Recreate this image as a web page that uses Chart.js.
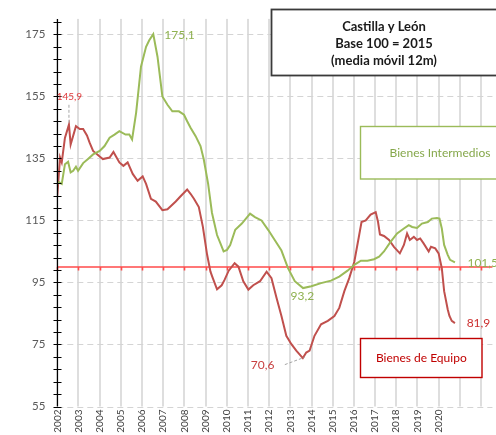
<!DOCTYPE html>
<html><head><meta charset="utf-8">
<script src="https://cdn.jsdelivr.net/npm/chart.js@4"></script>
<style>html,body{margin:0;padding:0;background:#fff;overflow:hidden}#wrap{width:496px;height:435px;position:relative}</style>
</head><body><div id="wrap"><canvas id="c" width="496" height="435"></canvas></div>
<script>
// ---- data ----
const equipoYears = [2002.0,2002.13,2002.21,2002.36,2002.55,2002.63,2002.88,2003.06,2003.22,2003.40,2003.53,2003.69,2004.0,2004.15,2004.47,2004.65,2004.93,2005.12,2005.32,2005.56,2005.79,2006.03,2006.19,2006.42,2006.65,2006.96,2007.20,2007.59,2007.82,2008.13,2008.29,2008.45,2008.68,2008.87,2009.07,2009.23,2009.34,2009.54,2009.76,2009.90,2010.09,2010.37,2010.55,2010.78,2011.02,2011.25,2011.57,2011.88,2012.11,2012.35,2012.58,2012.81,2013.05,2013.28,2013.59,2013.75,2013.91,2014.14,2014.45,2014.77,2015.08,2015.31,2015.55,2015.78,2016.02,2016.25,2016.36,2016.56,2016.79,2017.03,2017.14,2017.23,2017.42,2017.66,2017.89,2018.17,2018.36,2018.51,2018.64,2018.83,2018.98,2019.13,2019.29,2019.53,2019.64,2019.84,2020.0,2020.15,2020.26,2020.43,2020.51,2020.62,2020.77];
const equipoValues = [123,135.3,133.7,141.6,145.9,139.5,145.4,144.5,144.5,142.4,140,137.4,135.6,134.8,135.3,137.1,133.7,132.6,133.7,130,127.8,129.2,126.8,122,121.1,118.3,118.6,121.1,122.8,125,123.6,122,119.3,113,104,98.5,96.4,92.8,94.1,95.9,98.8,101.2,100.1,95.4,92.7,94.1,95.4,98.5,96.4,90,84.2,77.8,75.1,73,70.6,72.4,73,77.8,81.5,82.6,84.2,86.8,92.2,96.4,101.7,110.3,114.5,115,116.9,117.7,114.5,110.5,110,108.7,106.5,104.4,107.1,110.8,108.7,109.7,108.7,109.2,107.6,105,106.5,106,104.4,99.6,92.2,86.3,84.2,82.6,81.9];
const intermYears = [2002.0,2002.09,2002.21,2002.36,2002.51,2002.63,2002.75,2002.88,2002.98,2003.22,2003.45,2003.69,2004.0,2004.23,2004.47,2004.70,2004.93,2005.22,2005.40,2005.53,2005.72,2005.95,2006.19,2006.34,2006.53,2006.73,2006.96,2007.20,2007.43,2007.74,2007.98,2008.13,2008.29,2008.53,2008.76,2008.91,2009.12,2009.30,2009.54,2009.70,2009.85,2010.01,2010.16,2010.40,2010.71,2011.10,2011.33,2011.64,2011.96,2012.27,2012.58,2012.89,2013.21,2013.60,2013.99,2014.45,2014.92,2015.31,2015.70,2016.02,2016.33,2016.64,2016.95,2017.19,2017.42,2017.73,2018.04,2018.36,2018.59,2018.75,2018.98,2019.21,2019.49,2019.68,2019.92,2020.04,2020.15,2020.26,2020.43,2020.54,2020.77];
const intermValues = [126.8,127.3,126.8,133.1,133.9,130.5,131,132.3,131,133.5,134.8,136.3,137.4,139,141.7,142.7,143.8,142.7,142.7,141.1,149.7,164.6,171,173.1,175.1,167.8,155,152.3,150.2,150.2,149.1,147,144.9,142.2,139,134.8,126.8,117.5,110.3,107.6,105,105.5,107.1,112,114,117.2,116.1,115,111.9,108.6,105.3,99.6,95.4,93.2,93.8,94.8,95.6,96.9,98.8,100.7,102,102,102.5,103.3,105,108.1,110.8,112.4,113.5,112.9,112.6,114,114.5,115.6,115.8,115.6,112.4,107.1,103.9,102.3,101.5];
const gridYears = [2002,2003,2004,2005,2006,2007,2008,2009,2010,2011,2012,2013,2014,2015,2016,2017,2018,2019,2020,2021,2022];
const lastLabelYear = 2020;
const yTickValues = [55,59,63,67,71,75,79,83,87,91,95,99,103,107,111,115,119,123,127,131,135,139,143,147,151,155,159,163,167,171,175,179];
const yLabelValues = [55,75,95,115,135,155,175];
const baseLine = 100;
const titleLines = ['Castilla y León','Base 100 = 2015','(media móvil 12m)'];
const seriesNames = ['Bienes de Equipo','Bienes Intermedios'];
// value labels: text, x (year), y (value)
const labelTexts = ['145,9','175,1','93,2','70,6','81,9','101,5'];
const labelX = [2002.57,2007.77,2013.57,2011.69,2021.88,2021.36];
const labelY = [154.8,174.7,90.6,68.4,82.0,101.1];

// ---- styles ----
const RED = '#c0504d', GREEN = '#9bbb59';
const labelColors = ['#e0393b','#8fb150','#8fb150','#c84040','#cc2f2f','#8fb150'];
const labelFonts = ['10px Lato','12px Lato','12px Lato','12px Lato','12px Lato','12px Lato'];
const labelAlign = ['center','center','center','center','center','left'];

const overlay = {
  id: 'overlay',
  beforeDatasetsDraw(chart) {
    const {ctx, chartArea: a, scales: {x, y}} = chart;
    ctx.save();
    // vertical year grid lines (solid)
    ctx.fillStyle = '#dedede';
    x.ticks.forEach(t => { const px = Math.round(x.getPixelForValue(t.value)); ctx.fillRect(px - 1, a.top, 2, a.bottom - a.top); });
    // horizontal dashed grid lines
    ctx.strokeStyle = '#d4d4d4'; ctx.lineWidth = 1.2; ctx.setLineDash([6, 4]);
    ctx.beginPath();
    yLabelValues.forEach(v => { const py = Math.round(y.getPixelForValue(v)) + 0.5; ctx.moveTo(a.left, py); ctx.lineTo(a.right, py); });
    ctx.stroke();
    ctx.setLineDash([]);
    // base line at 100 with year ticks
    const yb = y.getPixelForValue(baseLine);
    ctx.strokeStyle = '#ff4b4b'; ctx.lineWidth = 1.6;
    ctx.beginPath(); ctx.moveTo(a.left, yb); ctx.lineTo(a.right, yb);
    x.ticks.forEach(t => { const px = Math.round(x.getPixelForValue(t.value)) + 0.5; ctx.moveTo(px, yb); ctx.lineTo(px, yb + 3.5); });
    ctx.stroke();
    ctx.restore();
  },
  afterDatasetsDraw(chart) {
    const {ctx, chartArea: a, scales: {x, y}} = chart;
    ctx.save();
    // y axis line and ticks
    const ax = Math.round(a.left) + 0.5;
    ctx.strokeStyle = '#000'; ctx.lineWidth = 1.2;
    ctx.beginPath(); ctx.moveTo(ax, a.top); ctx.lineTo(ax, a.bottom);
    y.ticks.forEach(t => { const py = Math.round(y.getPixelForValue(t.value)) + 0.5; ctx.moveTo(ax - 4, py); ctx.lineTo(ax + 4, py); });
    ctx.stroke();
    // leader lines
    ctx.strokeStyle = '#a6a6a6'; ctx.lineWidth = 1; ctx.setLineDash([3,2]);
    ctx.beginPath();
    ctx.moveTo(x.getPixelForValue(2002.55), y.getPixelForValue(152.3));
    ctx.lineTo(x.getPixelForValue(2002.55), y.getPixelForValue(146.3));
    ctx.moveTo(x.getPixelForValue(2012.74), y.getPixelForValue(68.5));
    ctx.lineTo(x.getPixelForValue(2013.68), y.getPixelForValue(70.9));
    ctx.stroke();
    ctx.setLineDash([]);
    // value labels
    ctx.textBaseline = 'middle';
    labelTexts.forEach((t, i) => {
      ctx.font = labelFonts[i]; ctx.fillStyle = labelColors[i]; ctx.textAlign = labelAlign[i];
      ctx.fillText(t, x.getPixelForValue(labelX[i]), y.getPixelForValue(labelY[i]));
    });
    // title box
    ctx.fillStyle = '#fff'; ctx.fillRect(271.5, 9.5, 240, 66);
    ctx.strokeStyle = '#3a3a3a'; ctx.lineWidth = 1.8; ctx.strokeRect(271.5, 9.5, 240, 66);
    ctx.fillStyle = '#1a1a1a'; ctx.font = 'bold 13px Lato'; ctx.textAlign = 'center';
    ctx.fillText(titleLines[0], 384, 27);
    ctx.fillText(titleLines[1], 384, 43.5);
    ctx.fillText(titleLines[2], 384, 61);
    // green box
    ctx.fillStyle = '#fff'; ctx.fillRect(360.5, 126.5, 200, 52.5);
    ctx.strokeStyle = GREEN; ctx.lineWidth = 1.4; ctx.strokeRect(360.5, 126.5, 200, 52.5);
    ctx.fillStyle = '#86a84c'; ctx.font = '12px Lato';
    ctx.fillText(seriesNames[1], 440, 153);
    // red box
    ctx.fillStyle = '#fff'; ctx.fillRect(360.5, 338.5, 121.5, 39);
    ctx.strokeStyle = '#c00000'; ctx.lineWidth = 1.4; ctx.strokeRect(360.5, 338.5, 121.5, 39);
    ctx.fillStyle = '#c00000'; ctx.font = '12px Lato';
    ctx.fillText(seriesNames[0], 421.3, 358.5);
    ctx.restore();
  }
};

new Chart(document.getElementById('c'), {
  type: 'line',
  data: {
    datasets: [
      { label: seriesNames[1], data: intermYears.map((v, i) => ({x: v, y: intermValues[i]})), borderColor: GREEN, borderWidth: 2, pointRadius: 0, tension: 0, fill: false },
      { label: seriesNames[0], data: equipoYears.map((v, i) => ({x: v, y: equipoValues[i]})), borderColor: RED, borderWidth: 2, pointRadius: 0, tension: 0, fill: false }
    ]
  },
  options: {
    responsive: false, animation: false, devicePixelRatio: 1,
    layout: { padding: { left: 0, top: 15, right: 0, bottom: 0 } },
    plugins: { legend: { display: false }, tooltip: { enabled: false } },
    scales: {
      x: {
        type: 'linear', min: 2002, max: 2022.54,
        afterBuildTicks: s => { s.ticks = gridYears.map(v => ({value: v})); },
        afterFit: s => { s.height = 28.5; },
        ticks: { autoSkip: false, maxRotation: 90, minRotation: 90, padding: 3, color: '#404040', font: { family: 'Lato', size: 10 },
          callback: v => v <= lastLabelYear ? String(v) : '' },
        grid: { display: false, drawTicks: false },
        border: { display: false }
      },
      y: {
        min: 55, max: 180,
        afterBuildTicks: s => { s.ticks = yTickValues.map(v => ({value: v})); },
        afterFit: s => { s.width = 57.3; },
        ticks: { autoSkip: false, padding: 12, color: '#595959', font: { family: 'Lato', size: 11.5 },
          callback: v => yLabelValues.includes(v) ? String(v) : '' },
        grid: { display: false, drawTicks: false },
        border: { display: false }
      }
    }
  },
  plugins: [overlay]
});
</script>
</body></html>
